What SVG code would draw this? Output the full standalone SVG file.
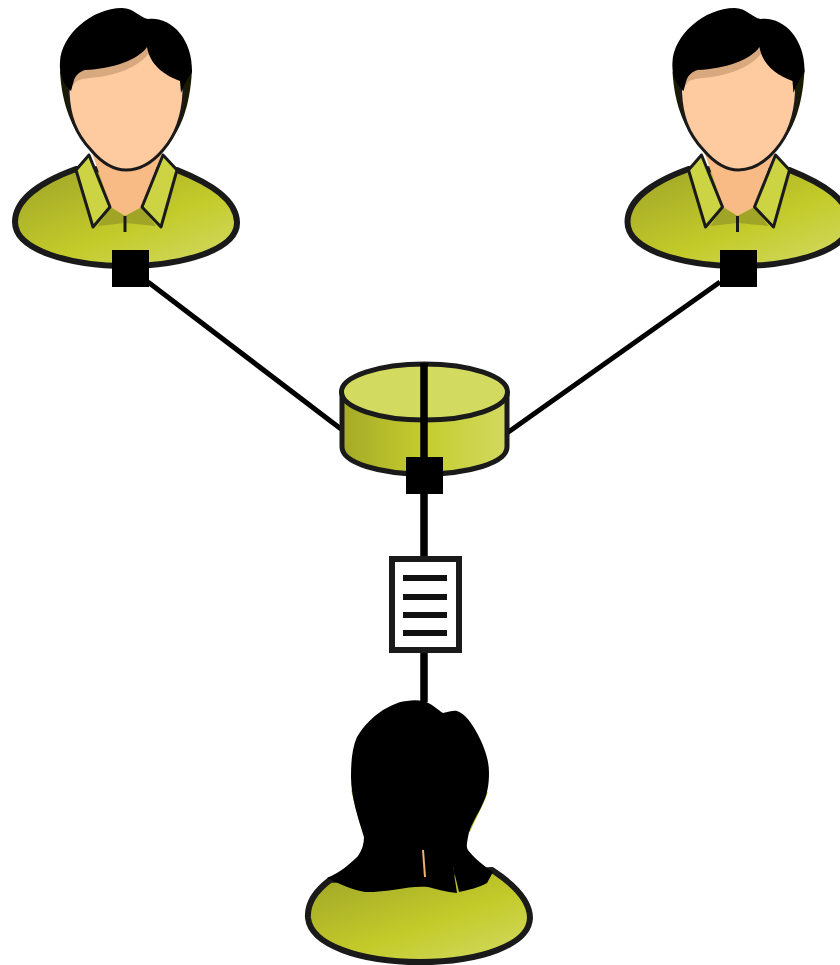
<svg xmlns="http://www.w3.org/2000/svg" width="840" height="965" viewBox="0 0 840 965">
<style>
.ln{fill:none;stroke:#000;stroke-width:5}
.ol{stroke:#1a1a1a;stroke-linejoin:round}
.sq{fill:#000}
</style>
<defs>
<linearGradient id="bodyG" x1="0.1" y1="0.1" x2="0.9" y2="1"><stop offset="0" stop-color="#a5aa28"/><stop offset="0.55" stop-color="#c3cb2a"/><stop offset="1" stop-color="#d2d961"/></linearGradient>
<linearGradient id="cylG" x1="0" y1="0" x2="1" y2="0"><stop offset="0" stop-color="#a5aa28"/><stop offset="0.5" stop-color="#c5cd2e"/><stop offset="1" stop-color="#d2d961"/></linearGradient>
<g id="man">
<path class="ol" d="M76 169C40 182 15 200 15 222C15 250 70 266 126 266C182 266 238 250 237 222C236 200 212 184 177 170Z" fill="url(#bodyG)" stroke-width="6"/>
<path d="M60 72C62 105 72 130 90 150L163 150C182 130 190 105 192 70L180 50L72 50Z" fill="#1a1a00"/>
<path d="M91 150L111 207L125 216L142 207L163 150Z" fill="#f9bb85"/>
<path d="M110 207L98 226L125 223L156 226L142 207L125 216Z" fill="#a0a528"/>
<path class="ol" d="M89 155L76 170L93 227L110 207Z" fill="#cdd444" stroke-width="3"/>
<path class="ol" d="M163 155L177 170L161 227L142 207Z" fill="#cdd444" stroke-width="3"/>
<path d="M125 216V232" stroke="#1a1a1a" stroke-width="3"/>
<path class="ol" d="M68 92C69 115 75 133 91 150C102 163 113 170 126 170C140 170 152 163 163 150C176 135 183 115 184 92L180 50L72 50Z" fill="#fdcb9f" stroke-width="3"/>
<path d="M73 86C76 80 80 79 90 78C115 76 138 68 150 52L181 80L170 45L72 50Z" fill="#d8a87e"/>
<path d="M71 91C63 84 59 74 60 62C61 35 92 8 122 8C134 8 140 18 148 19C170 16 193 38 192 72C188 78 184 84 181 93L180 81C164 75 150 65 147 47C138 60 112 69 85 70C79 72 76 75 74 80Z" fill="#000"/>
</g>
</defs>
<g id="connectors">
<path class="ln" d="M148 282L341 429"/>
<path class="ln" d="M720 282L507 433"/>
</g>
<g id="user-left"><use href="#man"/><rect class="sq" x="112" y="250" width="37" height="37"/></g>
<g id="user-right"><use href="#man" x="612.500"/><rect class="sq" x="720" y="250" width="37" height="37"/></g>
<g id="store">
<path class="ol" d="M342 392V447C342 463 380 474 424 474C468 474 507 463 507 447V392Z" fill="url(#cylG)" stroke-width="5"/>
<ellipse class="ol" cx="424.500" cy="392" rx="83" ry="28" fill="#d2da60" stroke-width="5"/>
<path d="M424 363V702" stroke="#000" stroke-width="7.500" fill="none"/>
<rect class="sq" x="406" y="457" width="37" height="37"/>
</g>
<g id="document">
<rect x="392" y="559" width="67" height="91" fill="#fff" stroke="#1a1a1a" stroke-width="6"/>
<path d="M403 578H447M403 597H447M403 615H447M403 633H447" stroke="#111" stroke-width="6" fill="none"/>
</g>
<g id="user-bottom">
<path class="ol" d="M330 880C314 892 307 905 308 918C311 945 360 962 420 962C480 962 529 945 530 918C530 902 515 885 492 870Z" fill="url(#bodyG)" stroke-width="6"/>
<path d="M352 790C356 808 361 824 365 838M487 792C483 805 474 820 469 832" stroke="#b6bc2a" stroke-width="1.500" fill="none"/>
<path d="M423 701C430 702 438 710 443 713C448 712 454 710 457 711C466 714 472 724 477 733C485 748 489 760 489 773C489 785 487 795 483 803C478 815 470 825 468 837C467 843 466 847 468 850C474 858 484 866 493 872L487 883C478 888 468 890 459 892L453 867L457 893C446 892 437 889 428 887C410 885 392 892 365 892C352 890 340 884 327 878C340 873 352 862 358 856C362 850 364 844 364 837C358 818 351 797 351 777C351 762 352 748 357 737C364 725 374 716 383 710C392 705 400 701 407 701C412 700 418 700 423 701Z" fill="#000"/>
<path d="M423 850L425 877" stroke="#f0b070" stroke-width="2"/>
</g>
</svg>
